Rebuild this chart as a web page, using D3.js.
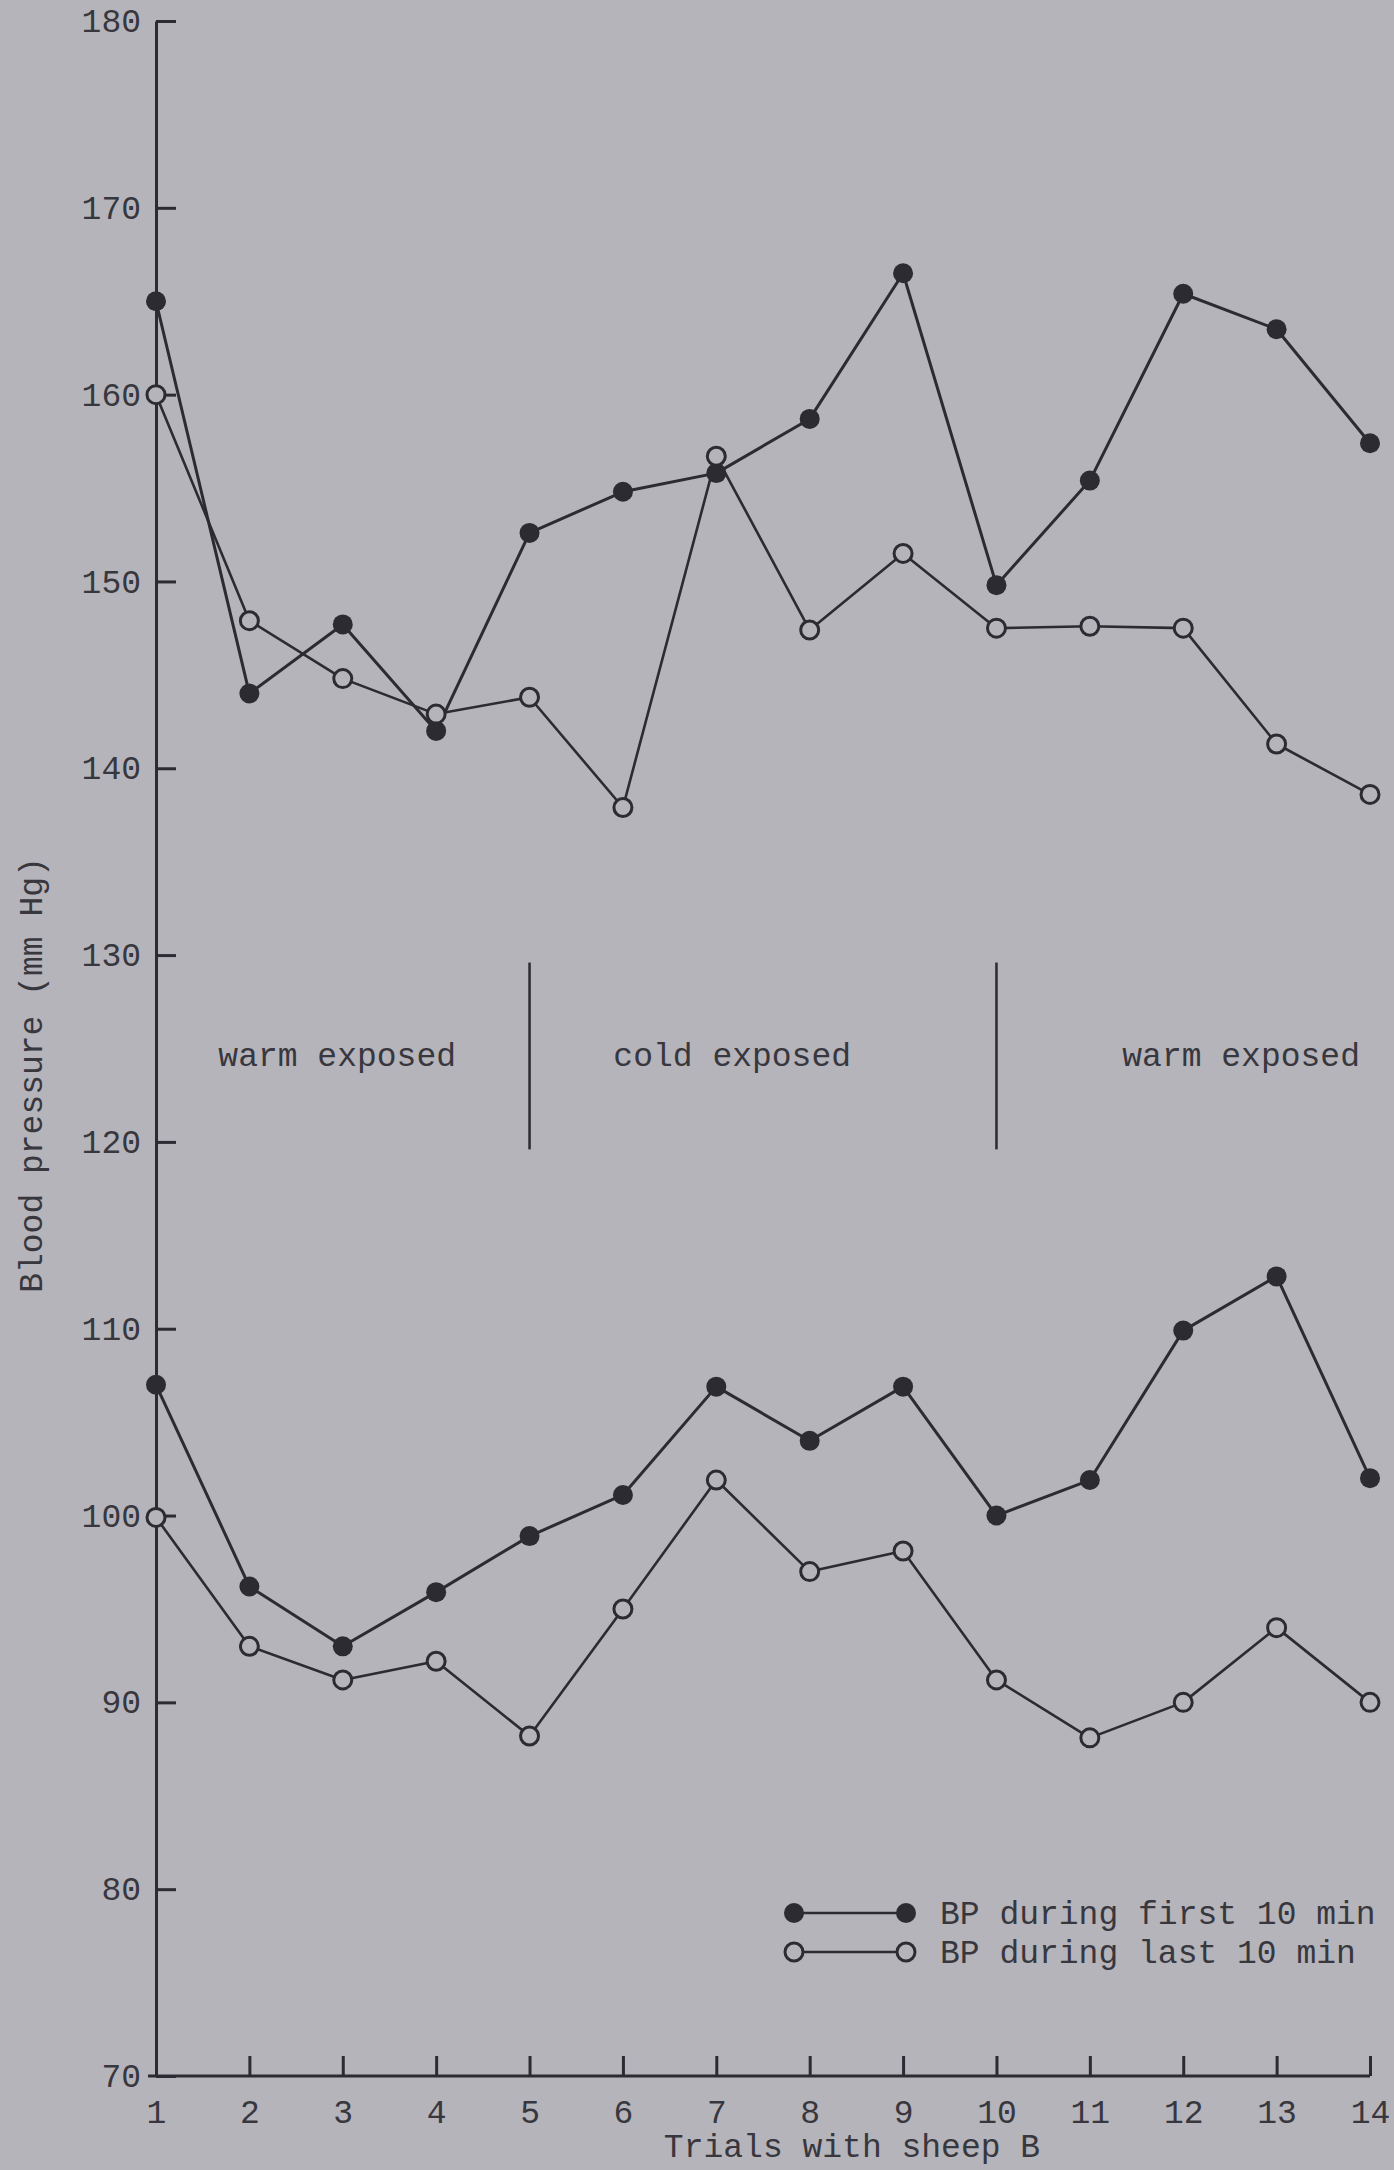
<!DOCTYPE html>
<html>
<head>
<meta charset="utf-8">
<script src="https://cdn.jsdelivr.net/npm/d3@7"></script>
<style>
  html, body { margin: 0; padding: 0; background: #b5b4ba; }
  svg { display: block; }
  text { font-family: "Liberation Mono", "DejaVu Sans Mono", monospace; fill: #38373e; }
</style>
</head>
<body>
<svg id="chart" width="1394" height="2170"></svg>
<script>
// Trials with sheep B
const trials = [1, 2, 3, 4, 5, 6, 7, 8, 9, 10, 11, 12, 13, 14];

// Upper pair of curves (systolic)
const systolicFirst10 = [165, 144, 147.7, 142, 152.6, 154.8, 155.8, 158.7, 166.5, 149.8, 155.4, 165.4, 163.5, 157.4];
const systolicLast10  = [160, 147.9, 144.8, 142.9, 143.8, 137.9, 156.7, 147.4, 151.5, 147.5, 147.6, 147.5, 141.3, 138.6];

// Lower pair of curves (diastolic)
const diastolicFirst10 = [107, 96.2, 93, 95.9, 98.9, 101.1, 106.9, 104, 106.9, 100, 101.9, 109.9, 112.8, 102];
const diastolicLast10  = [99.9, 93, 91.2, 92.2, 88.2, 95, 101.9, 97, 98.1, 91.2, 88.1, 90, 94, 90];

// Axis ticks
const yTicks = [70, 80, 90, 100, 110, 120, 130, 140, 150, 160, 170, 180];
const xTicks = trials;

// Exposure periods: boundaries (trial) and label anchors (trial)
const phaseBoundaries = [5, 10];
const phaseSpan = [119.6, 129.6];
const phaseLabels = ["warm exposed", "cold exposed", "warm exposed"];
const phaseLabelAt = [2.94, 7.17, 12.62];
const phaseLabelLevel = 124.06;

// Legend entries
const legendLabels = ["BP during first 10 min", "BP during last 10 min"];
const legendFilled = [true, false];

const INK = "#2c2b32";
const BG = "#b5b4ba";

const svg = d3.select("#chart");
svg.append("rect").attr("width", 1394).attr("height", 2170).attr("fill", BG);

const x = d3.scaleLinear().domain([1, 14]).range([156, 1370]);
const y = d3.scaleLinear().domain([70, 180]).range([2076, 21]);

// Y axis: ticks pointing inward
const yAxis = svg.append("g")
  .attr("transform", `translate(${x(1)},0)`)
  .call(d3.axisLeft(y).tickValues(yTicks).tickSizeInner(-20).tickSizeOuter(0).tickPadding(15));

// X axis: ticks pointing up
const xAxis = svg.append("g")
  .attr("transform", `translate(0,${y(70)})`)
  .call(d3.axisBottom(x).tickValues(xTicks).tickSizeInner(-20).tickSizeOuter(0).tickPadding(24));

[yAxis, xAxis].forEach(g => {
  g.select(".domain").attr("stroke", INK).attr("stroke-width", 3);
  g.selectAll(".tick line").attr("stroke", INK).attr("stroke-width", 3);
  g.selectAll(".tick text")
    .attr("fill", "#38373e")
    .style("font-family", '"Liberation Mono", monospace')
    .style("font-size", "33px");
});
xAxis.select(".domain").attr("d", `M${x(1) - 8},0H${x(14)}`);

// Axis titles
svg.append("text")
  .attr("transform", `translate(42,${1075}) rotate(-90)`)
  .attr("text-anchor", "middle")
  .style("font-size", "33px")
  .text("Blood pressure (mm Hg)");

svg.append("text")
  .attr("x", 852).attr("y", 2157)
  .attr("text-anchor", "middle")
  .style("font-size", "33px")
  .text("Trials with sheep B");

// Exposure period dividers and labels
svg.selectAll(".phase-line").data(phaseBoundaries).enter().append("line")
  .attr("x1", d => x(d)).attr("x2", d => x(d))
  .attr("y1", y(phaseSpan[1])).attr("y2", y(phaseSpan[0]))
  .attr("stroke", INK).attr("stroke-width", 2.5);

svg.selectAll(".phase-label").data(phaseLabels).enter().append("text")
  .attr("x", (d, i) => x(phaseLabelAt[i]))
  .attr("y", y(phaseLabelLevel))
  .attr("text-anchor", "middle")
  .style("font-size", "33px")
  .text(d => d);

// Series
const line = d3.line().x((d, i) => x(trials[i])).y(d => y(d));
const series = [
  { values: systolicFirst10, filled: true },
  { values: systolicLast10, filled: false },
  { values: diastolicFirst10, filled: true },
  { values: diastolicLast10, filled: false }
];

series.forEach(s => {
  svg.append("path")
    .attr("d", line(s.values))
    .attr("fill", "none")
    .attr("stroke", INK)
    .attr("stroke-width", s.filled ? 3 : 2.6)
    .attr("stroke-linejoin", "round");
});

series.forEach(s => {
  svg.append("g").selectAll("circle").data(s.values).enter().append("circle")
    .attr("cx", (d, i) => x(trials[i]))
    .attr("cy", d => y(d))
    .attr("r", s.filled ? 10 : 9)
    .attr("fill", s.filled ? INK : BG)
    .attr("stroke", INK)
    .attr("stroke-width", s.filled ? 0 : 3);
});

// Legend
const legend = svg.append("g");
const legendRows = legend.selectAll("g").data(legendLabels).enter().append("g")
  .attr("transform", (d, i) => `translate(0,${1913 + i * 39})`);
legendRows.append("line")
  .attr("x1", 793).attr("x2", 905).attr("y1", 0).attr("y2", 0)
  .attr("stroke", INK).attr("stroke-width", 2.4);
legendRows.each(function (d, i) {
  const g = d3.select(this);
  [794, 906].forEach(cx => {
    g.append("circle")
      .attr("cx", cx).attr("cy", 0)
      .attr("r", legendFilled[i] ? 10 : 9)
      .attr("fill", legendFilled[i] ? INK : BG)
      .attr("stroke", INK)
      .attr("stroke-width", legendFilled[i] ? 0 : 3);
  });
});
legendRows.append("text")
  .attr("x", 940).attr("y", 11)
  .style("font-size", "33px")
  .text(d => d);
</script>
</body>
</html>
